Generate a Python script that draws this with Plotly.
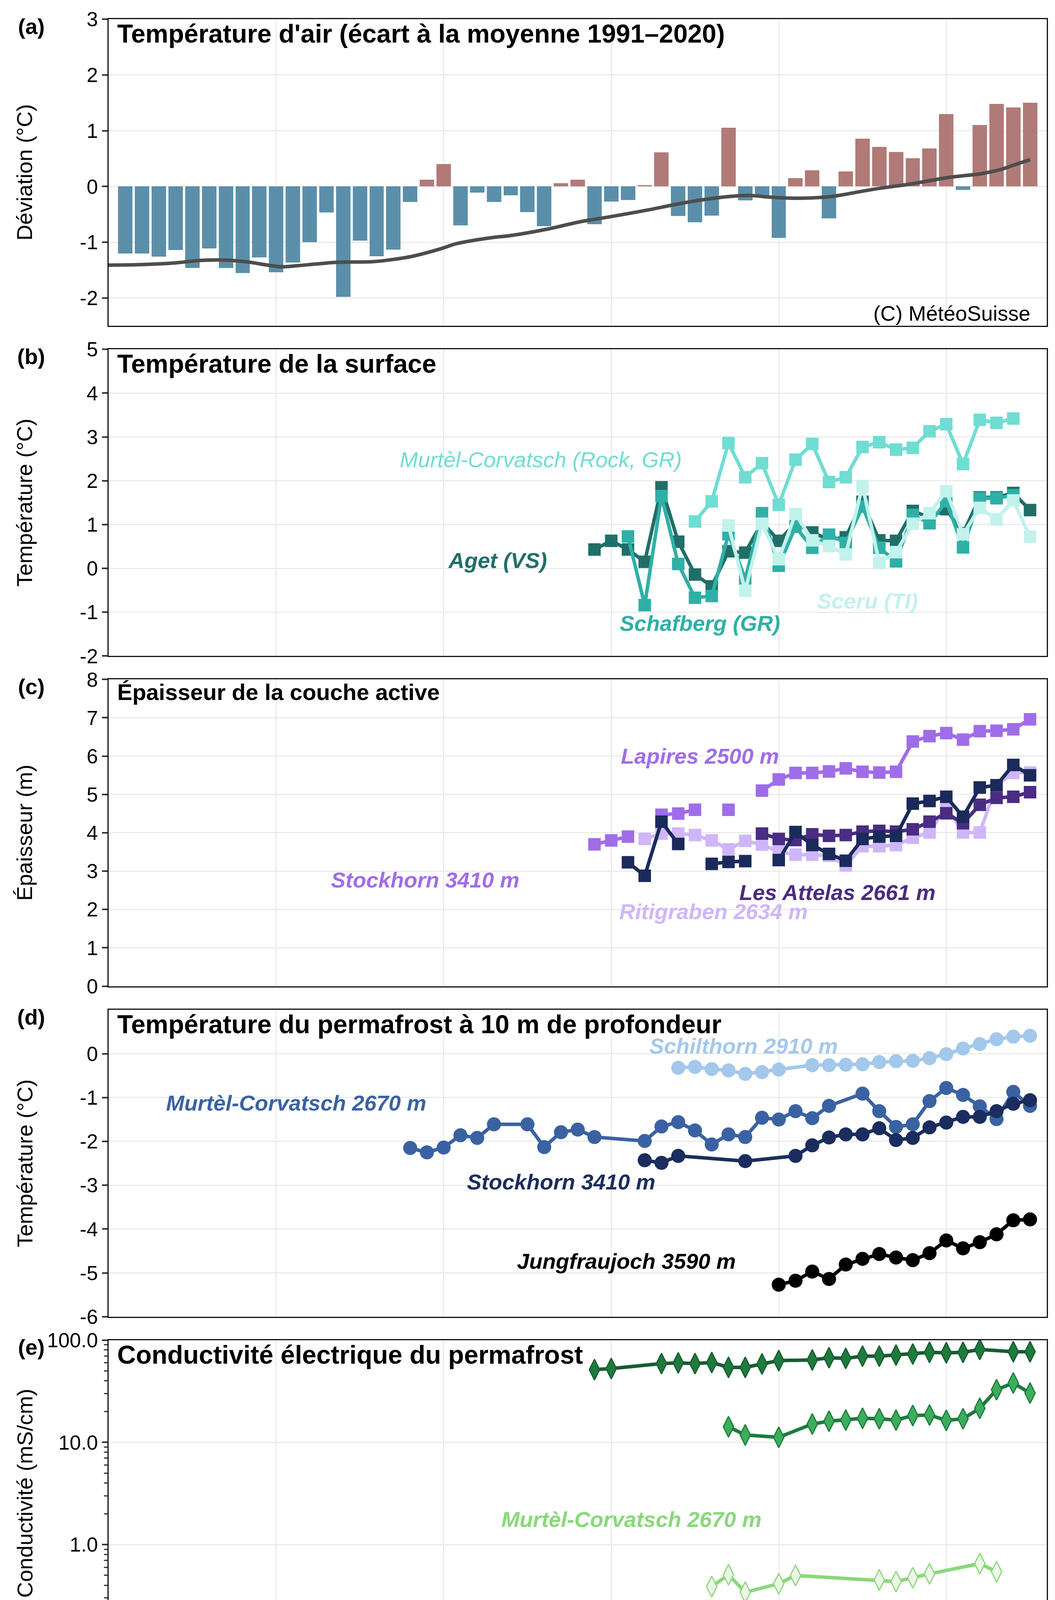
import plotly.graph_objects as go

# ---- données -------------------------------------------------------------
# (a) température d'air, écart à la moyenne 1991-2020
annees_air = list(range(1971, 2026))
ecart_air = [-1.20, -1.20, -1.26, -1.14, -1.46, -1.11, -1.46, -1.55, -1.27, -1.54,
             -1.36, -1.00, -0.47, -1.98, -0.97, -1.25, -1.13, -0.28, 0.12, 0.40,
             -0.70, -0.11, -0.28, -0.16, -0.46, -0.71, 0.06, 0.12, -0.68, -0.27,
             -0.24, 0.02, 0.61, -0.53, -0.64, -0.52, 1.05, -0.25, -0.16, -0.92,
             0.15, 0.29, -0.57, 0.27, 0.86, 0.71, 0.62, 0.51, 0.68, 1.30,
             -0.06, 1.10, 1.48, 1.42, 1.50]
tendance_annees = [1970, 1972, 1974, 1975.3, 1976.9, 1978.2, 1979.5, 1980.3, 1981.3,
                   1982.4, 1983.6, 1985.7, 1986.7, 1988, 1989.9, 1990.7, 1992.8, 1994,
                   1996.1, 1998.2, 2000, 2002.4, 2004.4, 2006.7, 2008.2, 2009.4, 2010.7,
                   2012.8, 2013.8, 2014.9, 2016.1, 2018, 2020.1, 2022.1, 2023.2, 2024, 2025]
tendance_valeurs = [-1.41, -1.40, -1.37, -1.33, -1.32, -1.35, -1.41, -1.44, -1.42,
                    -1.39, -1.36, -1.35, -1.32, -1.26, -1.11, -1.03, -0.92, -0.88,
                    -0.77, -0.63, -0.54, -0.41, -0.29, -0.19, -0.16, -0.19, -0.21,
                    -0.19, -0.15, -0.09, -0.03, 0.05, 0.16, 0.23, 0.30, 0.38, 0.48]

# (b) température de la surface
aget_annees = list(range(1999, 2026))
aget = [0.43, 0.63, 0.43, 0.15, 1.85, 0.61, -0.14, -0.41, 0.39, 0.36, 1.05, 0.63, 1.03,
        0.82, 0.66, 0.71, 1.52, 0.64, 0.63, 1.31, 1.16, 1.35, 0.80, 1.62, 1.62, 1.72, 1.33]
schafberg_annees = list(range(2001, 2025))
schafberg = [0.73, -0.84, 1.65, 0.10, -0.67, -0.63, 0.78, -0.24, 1.26, 0.06, 0.95, 0.47,
             0.77, 0.58, 1.41, 0.47, 0.16, 1.22, 1.03, 1.53, 0.48, 1.60, 1.60, 1.67]
sceru_surf_annees = list(range(2007, 2026))
sceru_surf = [0.98, -0.51, 1.02, 0.21, 1.24, 0.64, 0.51, 0.32, 1.88, 0.13, 0.37, 1.02,
              1.26, 1.76, 0.78, 1.38, 1.12, 1.55, 0.72]
murtel_rock_annees = list(range(2005, 2025))
murtel_rock = [1.07, 1.53, 2.86, 2.08, 2.40, 1.45, 2.48, 2.84, 1.97, 2.08, 2.77, 2.88,
               2.71, 2.75, 3.13, 3.29, 2.38, 3.39, 3.32, 3.42]

# (c) épaisseur de la couche active (None = lacune)
lapires_annees = list(range(1999, 2026))
lapires = [3.70, 3.80, 3.90, None, 4.47, 4.50, 4.60, None, 4.60, None, 5.10, 5.39, 5.56,
           5.56, 5.60, 5.68, 5.59, 5.57, 5.59, 6.38, 6.52, 6.60, 6.43, 6.65, 6.66, 6.70, 6.96]
ritigraben_annees = list(range(2002, 2026))
ritigraben = [3.84, 3.98, 3.98, 3.94, 3.80, 3.57, 3.79, 3.69, 3.51, 3.43, 3.43, 3.40,
              3.15, 3.65, 3.65, 3.68, 3.87, 4.01, 4.69, 4.01, 4.01, 5.24, 5.56, 5.57]
attelas_annees = list(range(2009, 2026))
attelas = [3.98, 3.84, 3.81, 3.96, 3.92, 3.94, 4.03, 4.05, 4.03, 4.09, 4.29, 4.51, 4.25,
           4.73, 4.91, 4.94, 5.06]
stockhorn_ca_annees = list(range(2001, 2026))
stockhorn_ca = [3.23, 2.88, 4.29, 3.71, None, 3.19, 3.24, 3.26, None, 3.29, 4.02, 3.68,
                3.45, 3.27, 3.84, 3.90, 3.92, 4.76, 4.83, 4.94, 4.42, 5.18, 5.24, 5.77, 5.50]

# (d) température du permafrost à 10 m
schilthorn_t_annees = [2004, 2005, 2006, 2007, 2008, 2009, 2010, 2012, 2013, 2014, 2015,
                       2016, 2017, 2018, 2019, 2020, 2021, 2022, 2023, 2024, 2025]
schilthorn_t = [-0.32, -0.30, -0.35, -0.38, -0.46, -0.42, -0.36, -0.26, -0.26, -0.25,
                -0.24, -0.19, -0.17, -0.16, -0.10, -0.01, 0.12, 0.22, 0.33, 0.39, 0.41]
murtel_t_annees = [1988, 1989, 1990, 1991, 1992, 1993, 1995, 1996, 1997, 1998, 1999, 2002,
                   2003, 2004, 2005, 2006, 2007, 2008, 2009, 2010, 2011, 2012, 2013, 2015,
                   2016, 2017, 2018, 2019, 2020, 2021, 2022, 2023, 2024, 2025]
murtel_t = [-2.15, -2.25, -2.14, -1.86, -1.92, -1.61, -1.61, -2.13, -1.79, -1.73, -1.90,
            -1.99, -1.66, -1.56, -1.75, -2.07, -1.84, -1.90, -1.46, -1.50, -1.31, -1.47,
            -1.19, -0.91, -1.31, -1.67, -1.61, -1.08, -0.78, -0.94, -1.20, -1.49, -0.87, -1.19]
stockhorn_t_annees = [2002, 2003, 2004, 2008, 2011, 2012, 2013, 2014, 2015, 2016, 2017,
                      2018, 2019, 2020, 2021, 2022, 2023, 2024, 2025]
stockhorn_t = [-2.43, -2.49, -2.33, -2.45, -2.33, -2.09, -1.91, -1.84, -1.84, -1.70,
               -1.97, -1.92, -1.68, -1.57, -1.44, -1.44, -1.31, -1.14, -1.06]
jungfrau_annees = list(range(2010, 2026))
jungfrau = [-5.27, -5.18, -4.97, -5.14, -4.81, -4.68, -4.57, -4.65, -4.71, -4.55, -4.26,
            -4.44, -4.30, -4.12, -3.80, -3.78]

# (e) conductivité électrique
schilthorn_c_annees = [1999, 2000, 2003, 2004, 2005, 2006, 2007, 2008, 2009, 2010, 2012,
                       2013, 2014, 2015, 2016, 2017, 2018, 2019, 2020, 2021, 2022, 2024, 2025]
schilthorn_c = [51.4, 52.7, 58.9, 59.8, 58.9, 60.4, 54.1, 54.1, 58.4, 63.0, 63.9, 67.2,
                66.2, 69.6, 69.6, 71.3, 73.1, 75.8, 75.1, 75.8, 81.0, 76.9, 76.9]
stockhorn_c_annees = [2007, 2008, 2010, 2012, 2013, 2014, 2015, 2016, 2017, 2018, 2019,
                      2020, 2021, 2022, 2023, 2024, 2025]
stockhorn_c = [14.2, 11.8, 11.2, 15.1, 16.1, 16.5, 17.2, 17.0, 16.5, 18.3, 18.5, 16.4,
               17.0, 21.5, 32.7, 38.0, 30.3]
murtel_c_annees = [2006, 2007, 2008, 2010, 2011, 2016, 2017, 2018, 2019, 2022, 2023]
murtel_c = [0.388, 0.507, 0.342, 0.414, 0.499, 0.451, 0.435, 0.474, 0.517, 0.652, 0.543]

# (f) vitesse des glaciers rocheux
gemmi_photo_annees = [1970, 1974, 1985, 1990, 1995, 2000, 2005, 2010, 2012, 2013, 2014]
gemmi_photo = [0.48, 0.675, 0.51, 0.88, 1.27, 2.25, 1.60, 2.31, 2.93, 3.38, 3.38]
gemmi_annees = list(range(1998, 2026))
gemmi = [1.44, 1.41, 1.54, 1.31, 2.22, 2.60, 1.65, 0.62, 0.91, 0.82, 1.09, 1.56, 1.53,
         1.92, 2.33, 2.50, 3.00, 3.04, 1.83, 1.92, 2.26, 2.69, 1.99, 1.24, 1.45, 2.70,
         2.47, 2.47]
muragl_annees = list(range(2009, 2026))
muragl = [0.79, 0.73, 0.76, 0.88, 1.16, 1.29, 1.06, 0.90, 0.90, 1.09, 1.23, 1.23, 1.23,
          1.10, 1.23, 1.11, 1.11]
rechy_annees = list(range(2005, 2026))
rechy = [0.50, 0.54, 0.66, 0.94, 1.06, 1.11, 1.06, 1.28, 1.41, 1.57, 1.45, 1.02, 1.15,
         1.20, 1.27, 1.20, 0.90, 0.96, 1.19, 1.07, 1.07]
sceru_v_annees = list(range(2009, 2026))
sceru_v = [0.12, 0.14, 0.17, 0.20, 0.22, 0.25, 0.20, 0.16, 0.19, 0.24, 0.24, 0.31, 0.26,
           0.23, 0.29, 0.24, 0.24]

# ---- mise en page --------------------------------------------------------
W, H = 2700, 5175
ML, MR, MT, MB = 270, 29, 30, 112
PH = H - MT - MB
hauts = [30, 877, 1724, 2572, 3419, 4266]   # haut de chaque panneau (px)
HP = 787
domaines = [(1 - (h + HP - MT) / PH, 1 - (h - MT) / PH) for h in hauts]
domaines = [(max(0.0, b), min(1.0, t)) for b, t in domaines]

POLICE = "Liberation Sans, Arial, Helvetica, sans-serif"
GRILLE = "#ebebeb"

fig = go.Figure()


def sfx(i):
    return "" if i == 1 else str(i)


def ligne(i, x, y, couleur, symbole=None, taille=32, largeur=9, remplissage=None,
          bord=None, forme="linear", dash="solid"):
    mode = "lines+markers" if symbole else "lines"
    marker = None
    if symbole:
        marker = dict(symbol=symbole, size=taille, color=remplissage or couleur,
                      line=dict(width=3 if bord else 0, color=bord or couleur))
    fig.add_trace(go.Scatter(x=x, y=y, mode=mode, xaxis="x" + sfx(i), yaxis="y" + sfx(i),
                             line=dict(color=couleur, width=largeur, shape=forme, dash=dash),
                             marker=marker, showlegend=False, hoverinfo="skip"))


# (a)
fig.add_trace(go.Bar(x=annees_air, y=ecart_air, width=0.86, xaxis="x", yaxis="y",
                     marker=dict(color=["#b07a77" if v > 0 else "#5b8fa9" for v in ecart_air],
                                 line=dict(width=0)),
                     showlegend=False, hoverinfo="skip"))
ligne(1, tendance_annees, tendance_valeurs, "#4d4d4d", largeur=9, forme="spline")

# (b)
ligne(2, aget_annees, aget, "#1f6f68", "square")
ligne(2, schafberg_annees, schafberg, "#2fb0a6", "square")
ligne(2, sceru_surf_annees, sceru_surf, "#c2f2ec", "square")
ligne(2, murtel_rock_annees, murtel_rock, "#6fddd3", "square")

# (c)
ligne(3, lapires_annees, lapires, "#a06de9", "square")
ligne(3, ritigraben_annees, ritigraben, "#cfb6f9", "square")
ligne(3, attelas_annees, attelas, "#4a2c82", "square")
ligne(3, stockhorn_ca_annees, stockhorn_ca, "#1a2b5b", "square")

# (d)
ligne(4, schilthorn_t_annees, schilthorn_t, "#a3c8ec", "circle", taille=36)
ligne(4, murtel_t_annees, murtel_t, "#3a62a3", "circle", taille=36)
ligne(4, stockhorn_t_annees, stockhorn_t, "#1a2d5e", "circle", taille=36)
ligne(4, jungfrau_annees, jungfrau, "#000000", "circle", taille=36)

# (e)
ligne(5, schilthorn_c_annees, schilthorn_c, "#185c32", "diamond-tall", taille=38,
      remplissage="#1e7b3c", bord="#185c32")
ligne(5, stockhorn_c_annees, stockhorn_c, "#1e7b3c", "diamond-tall", taille=38,
      remplissage="#3bae5d", bord="#1e7b3c")
ligne(5, murtel_c_annees, murtel_c, "#8ad87b", "diamond-tall", taille=38,
      remplissage="#ebf7e7", bord="#8ad87b")

# (f)
ligne(6, gemmi_photo_annees, gemmi_photo, "#a3141e", largeur=7, forme="hv", dash="dash")
ligne(6, muragl_annees, muragl, "#e8907a", largeur=10, forme="hv")
ligne(6, rechy_annees, rechy, "#e9c98b", largeur=10, forme="hv")
ligne(6, sceru_v_annees, sceru_v, "#d85c5e", largeur=10, forme="hv")
ligne(6, gemmi_annees, gemmi, "#6e1519", largeur=10, forme="hv")

# axes
decennies = [1970, 1980, 1990, 2000, 2010, 2020]
axes_y = [
    dict(range=[-2.5, 3], tickvals=[-2, -1, 0, 1, 2, 3]),
    dict(range=[-2, 5], tickvals=list(range(-2, 6))),
    dict(range=[0, 8], tickvals=list(range(0, 9))),
    dict(range=[-6, 1], tickvals=list(range(-6, 1))),
    dict(type="log", range=[-1, 2], tickvals=[0.1, 1, 10, 100],
         ticktext=["0.1", "1.0", "10.0", "100.0"],
         minor=dict(dtick="D1", ticks="outside", ticklen=9, tickwidth=3,
                    tickcolor="#333333", showgrid=False)),
    dict(range=[0, 3.75], tickvals=[0, 0.5, 1, 1.5, 2, 2.5, 3, 3.5],
         ticktext=["0.0", "0.5", "1.0", "1.5", "2.0", "2.5", "3.0", "3.5"]),
]
layout = {}
for i in range(1, 7):
    ya = axes_y[i - 1]
    if "ticktext" not in ya:
        ya["ticktext"] = [str(v) for v in ya["tickvals"]]
    layout["xaxis" + sfx(i)] = dict(
        domain=[0, 1], anchor="y" + sfx(i), range=[1970, 2026], tickvals=decennies,
        showticklabels=(i == 6), ticks="outside" if i == 6 else "", ticklen=14,
        tickwidth=4, tickcolor="#333333", showgrid=True, gridcolor=GRILLE, gridwidth=3,
        zeroline=False, showline=True, mirror=True, linecolor="#111111", linewidth=3,
        tickfont=dict(size=54, color="black"))
    layout["yaxis" + sfx(i)] = dict(
        domain=list(domaines[i - 1]), anchor="x" + sfx(i), ticks="outside", ticklen=14,
        tickwidth=4, tickcolor="#333333", showgrid=True, gridcolor=GRILLE, gridwidth=3,
        zeroline=False, showline=True, mirror=True, linecolor="#111111", linewidth=3,
        tickfont=dict(size=52, color="black"), **ya)

annotations = []
titres = ["Température d'air (écart à la moyenne 1991–2020)",
          "Température de la surface",
          "Épaisseur de la couche active",
          "Température du permafrost à 10 m de profondeur",
          "Conductivité électrique du permafrost",
          "Vitesse des glaciers rocheux (horizontale)"]
tailles_titres = [66, 66, 58, 66, 66, 66]
titres_y = ["Déviation (°C)", "Température (°C)", "Épaisseur (m)", "Température (°C)",
            "Conductivité (mS/cm)", "Vitesse (m/a)"]
lettres = ["(a)", "(b)", "(c)", "(d)", "(e)", "(f)"]
for i, (bas, haut) in enumerate(domaines):
    annotations.append(dict(text="<b>" + titres[i] + "</b>", xref="paper", yref="paper",
                            x=0, y=haut, xanchor="left", yanchor="top", xshift=20, yshift=2,
                            showarrow=False, font=dict(size=tailles_titres[i], color="black")))
    annotations.append(dict(text=titres_y[i], xref="paper", yref="paper", x=0,
                            y=(bas + haut) / 2, xanchor="center", yanchor="middle",
                            xshift=-(ML - 55), textangle=-90, showarrow=False,
                            font=dict(size=56, color="black")))
    annotations.append(dict(text="<b>" + lettres[i] + "</b>", xref="paper", yref="paper",
                            x=0, y=haut, xanchor="center", yanchor="middle",
                            xshift=-(ML - 72), yshift=-18, showarrow=False,
                            font=dict(size=56, color="black")))

annotations.append(dict(text="(C) MétéoSuisse", xref="paper", yref="paper", x=1,
                        y=domaines[0][0], xanchor="right", yanchor="bottom", xshift=-40,
                        yshift=0, showarrow=False, font=dict(size=54, color="black")))


def etiquette(i, texte, x, y, couleur, gras=True):
    t = "<i>" + texte + "</i>"
    if gras:
        t = "<b>" + t + "</b>"
    annotations.append(dict(text=t, xref="x" + sfx(i), yref="y" + sfx(i), x=x, y=y,
                            xanchor="center", yanchor="middle", showarrow=False,
                            font=dict(size=56, color=couleur)))


etiquette(2, "Murtèl-Corvatsch (Rock, GR)", 1995.8, 2.48, "#6fddd3", gras=False)
etiquette(2, "Aget (VS)", 1993.2, 0.18, "#1f6f68")
etiquette(2, "Schafberg (GR)", 2005.3, -1.25, "#2fb0a6")
etiquette(2, "Sceru (TI)", 2015.3, -0.74, "#c2f2ec")

etiquette(3, "Lapires 2500 m", 2005.3, 6.0, "#a06de9")
etiquette(3, "Stockhorn 3410 m", 1988.9, 2.77, "#a06de9")
etiquette(3, "Ritigraben 2634 m", 2006.1, 1.95, "#cfb6f9")
etiquette(3, "Les Attelas 2661 m", 2013.5, 2.45, "#4a2c82")

etiquette(4, "Schilthorn 2910 m", 2007.9, 0.18, "#a3c8ec")
etiquette(4, "Murtèl-Corvatsch 2670 m", 1981.2, -1.12, "#3a62a3")
etiquette(4, "Stockhorn 3410 m", 1997.0, -2.92, "#1a2d5e")
etiquette(4, "Jungfraujoch 3590 m", 2000.9, -4.73, "#000000")

etiquette(5, "Schilthorn 2970 m", 1998.9, 33.5, "#185c32")
etiquette(5, "Stockhorn 3410 m", 1993.9, 6.86, "#1e7b3c")
etiquette(5, "Murtèl-Corvatsch 2670 m", 2001.2, 0.247, "#8ad87b")

etiquette(6, "Gemmi 2450 m", 2004.85, 2.79, "#6e1519")
etiquette(6, "Muragl 2490 m", 1994.8, 0.70, "#e8907a")
etiquette(6, "Réchy 2610 m", 1994.6, 0.41, "#e9c98b")
etiquette(6, "Sceru 2450 m", 1999.4, 0.11, "#d85c5e")

shapes = [dict(type="line", xref="x4 domain", yref="y4", x0=0, x1=1, y0=0, y1=0,
               line=dict(color="#555555", width=3, dash="dot"), layer="below")]

fig.update_layout(width=W, height=H, margin=dict(l=ML, r=MR, t=MT, b=MB),
                  paper_bgcolor="white", plot_bgcolor="white",
                  font=dict(family=POLICE, color="black"), bargap=0,
                  annotations=annotations, shapes=shapes, **layout)

fig.write_html("out.html")
